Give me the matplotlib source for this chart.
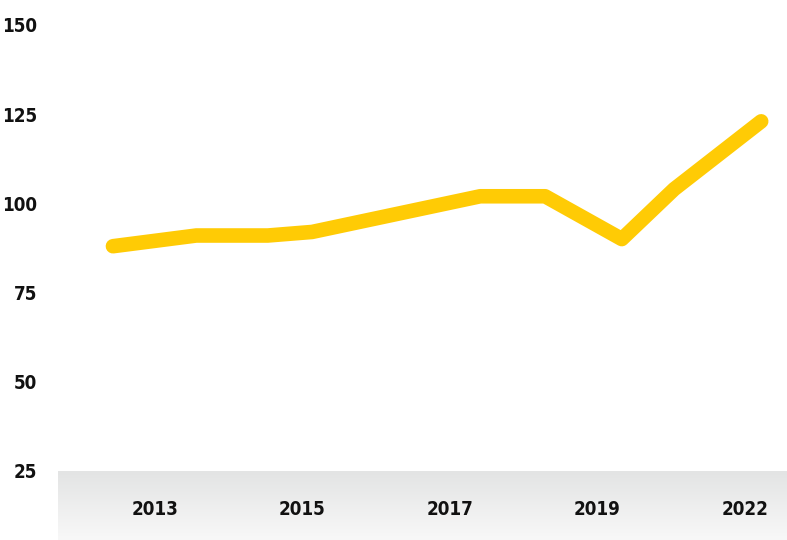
import numpy as np
import matplotlib.pyplot as plt
from matplotlib.colors import LinearSegmentedColormap

# series values
x_pos = [-0.57, 0.56, 1.53, 2.13, 4.41, 5.29, 6.33, 7.04, 8.22]
values = [88, 91, 91, 92, 102, 102, 90, 104, 123]

tick_pos = [0, 2, 4, 6, 8]
tick_labels = ["2013", "2015", "2017", "2019", "2022"]
y_ticks = [25, 50, 75, 100, 125, 150]

plt.rcParams["font.family"] = ["DejaVu Sans"]
plt.rcParams["font.stretch"] = "condensed"

fig = plt.figure(figsize=(7.87, 5.4), dpi=100)
fig.patch.set_facecolor("white")

left = 58 / 787
bottom = 69 / 540
top = 515 / 540

# grey gradient band behind the x labels
ax_band = fig.add_axes([left, 0, 1 - left, bottom])
grad = np.linspace(0, 1, 100).reshape(-1, 1)
band_cmap = LinearSegmentedColormap.from_list("band", ["#e3e4e4", "#f8f8f8"])
ax_band.imshow(grad, aspect="auto", cmap=band_cmap, extent=[0, 1, 1, 0])
ax_band.set_axis_off()

ax = fig.add_axes([left, bottom, 1 - left, top - bottom])
ax.set_facecolor("none")
ax.plot(x_pos, values, color="#ffcb05", lw=10.5,
        solid_capstyle="round", solid_joinstyle="round", zorder=3)

ax.set_xlim(-1.315, 8.57)
ax.set_ylim(25, 150)
ax.set_yticks(y_ticks)
ax.set_yticklabels([str(v) for v in y_ticks])
ax.set_xticks(tick_pos)
ax.set_xticklabels(tick_labels)

for lbl in ax.get_yticklabels() + ax.get_xticklabels():
    lbl.set_fontsize(13.5)
    lbl.set_fontweight("bold")
    lbl.set_fontstretch("condensed")
    lbl.set_color("#111111")

ax.tick_params(axis="y", length=0, pad=15)
ax.tick_params(axis="x", length=0, pad=21)
for s in ax.spines.values():
    s.set_visible(False)

fig.savefig("out.png", dpi=100)
